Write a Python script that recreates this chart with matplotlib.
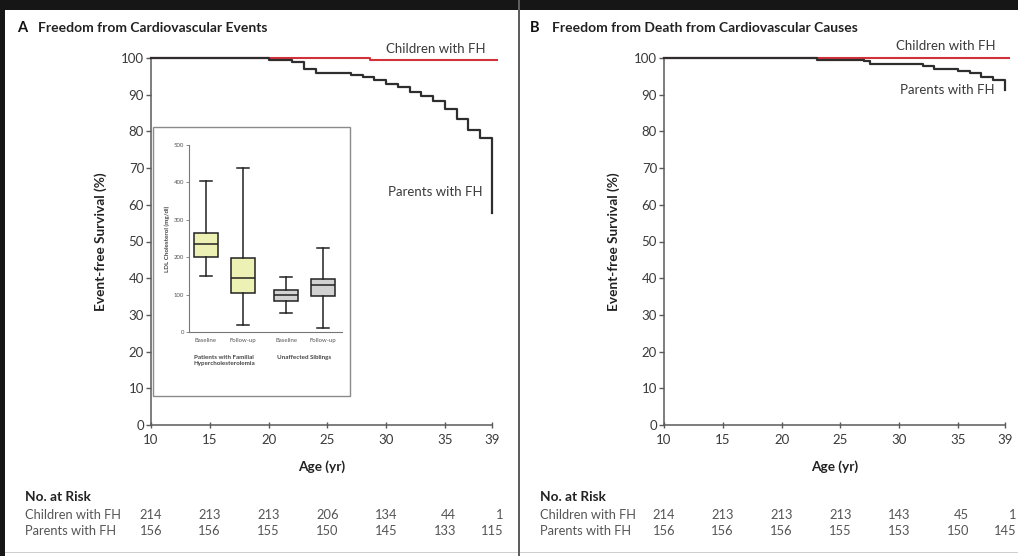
import matplotlib
matplotlib.use("Agg")
import matplotlib.pyplot as plt
from matplotlib.patches import Rectangle

plt.rcParams['font.family'] = ['Lato', 'DejaVu Sans']

# ---- Kaplan-Meier step data (age in years, event-free survival in %) ----
a_parents_age = [10, 20, 22, 23, 24, 27, 28, 29, 30, 31, 32, 33, 34, 35, 36, 37, 38, 39, 39]
a_parents_surv = [100, 99.5, 99.0, 96.9, 96.0, 95.5, 94.8, 94.1, 93.0, 92.0, 90.7, 89.7, 88.3,
                  86.0, 83.3, 80.5, 78.2, 75.4, 57.8]
a_children_age = [10, 28.6, 39.4]
a_children_surv = [100, 99.5, 99.5]

b_parents_age = [10, 23, 27, 27.5, 32, 33, 35, 36, 37, 38, 39, 39]
b_parents_surv = [100, 99.5, 99.1, 98.3, 97.7, 97.0, 96.4, 95.8, 94.9, 94.0, 94.0, 91.2]
b_children_age = [10, 39.3]
b_children_surv = [100, 100]

# ---- Numbers at risk ----
risk_ages = [10, 15, 20, 25, 30, 35, 39]
a_risk_children = [214, 213, 213, 206, 134, 44, 1]
a_risk_parents = [156, 156, 155, 150, 145, 133, 115]
b_risk_children = [214, 213, 213, 213, 143, 45, 1]
b_risk_parents = [156, 156, 156, 155, 153, 150, 145]

# ---- Inset: LDL cholesterol (mg/dl) box summaries ----
ldl_labels = ["Baseline", "Follow-up", "Baseline", "Follow-up"]
ldl_whislo = [150, 18, 50, 10]
ldl_q1 = [201, 104, 83, 95]
ldl_med = [235, 145, 98, 125]
ldl_q3 = [264, 198, 113, 143]
ldl_whishi = [404, 438, 148, 225]
ldl_groups = ["Patients with Familial\nHypercholesterolemia", "Unaffected Siblings"]

W, H = 1018, 556
fig = plt.figure(figsize=(W / 100, H / 100), dpi=100)
fig.patch.set_facecolor("white")

DARK = "#2e2e2e"
RED = "#d3313a"
TXT = "#3a3a3a"
SPINE = "#5a5a5a"


def px_rect(x0, y0, x1, y1):
    """Axes rectangle from pixel edges (y measured from the top)."""
    return [x0 / W, 1 - y1 / H, (x1 - x0) / W, (y1 - y0) / H]


def fig_xy(xpx, ypx):
    return (xpx / W, 1 - ypx / H)


def style_km(ax):
    ax.set_xlim(10, 39)
    ax.set_ylim(0, 100)
    for s in ("top", "right"):
        ax.spines[s].set_visible(False)
    for s in ("left", "bottom"):
        ax.spines[s].set_color(SPINE)
        ax.spines[s].set_linewidth(1.1)
    ax.set_xticks(risk_ages)
    ax.set_yticks(range(0, 101, 10))
    ax.tick_params(axis="y", direction="out", length=3.5, width=1, color=SPINE,
                   labelsize=9.5, labelcolor=TXT, pad=1.5)
    ax.tick_params(axis="x", direction="inout", length=5, width=1, color=SPINE,
                   labelsize=9.5, labelcolor=TXT, pad=4)
    ax.set_xlabel("Age (yr)", fontsize=9.8, fontweight="bold", color="#222", labelpad=10)
    ax.set_ylabel("Event-free Survival (%)", fontsize=9.8, fontweight="bold", color="#222",
                  labelpad=10)
    ax.patch.set_alpha(0)


def risk_table(ax, x_text, children, parents):
    fig.text(*fig_xy(x_text, 497), "No. at Risk", fontsize=9.8, fontweight="bold",
             color="#222", va="center")
    fig.text(*fig_xy(x_text, 515), "Children with FH", fontsize=9.3, color="#555",
             va="center")
    fig.text(*fig_xy(x_text, 531), "Parents with FH", fontsize=9.3, color="#555",
             va="center")
    for age, c, p in zip(risk_ages, children, parents):
        for val, ypx in ((c, 515), (p, 531)):
            ax.annotate(str(val), xy=(age, 1 - ypx / H), xycoords=("data", "figure fraction"),
                        xytext=(8, 0), textcoords="offset points", ha="right", va="center",
                        fontsize=9.3, color="#555", annotation_clip=False)


def curve_label(ax, text, xpx, ypx):
    ax.annotate(text, xy=fig_xy(xpx, ypx), xycoords="figure fraction",
                ha="right", va="center", fontsize=9.5, color=TXT)


# ---------------- Panel A ----------------
axA = fig.add_axes(px_rect(151, 58, 492, 425))
style_km(axA)
axA.step(a_children_age, a_children_surv, where="post", color=RED, lw=1.5, clip_on=False, zorder=3)
axA.step(a_parents_age, a_parents_surv, where="post", color=DARK, lw=1.6, clip_on=False, zorder=4)
curve_label(axA, "Children with FH", 485, 49)
curve_label(axA, "Parents with FH", 483, 192)
fig.text(*fig_xy(17, 28), "A", fontsize=10.5, fontweight="bold", color="#111", va="center")
fig.text(*fig_xy(38, 28), "Freedom from Cardiovascular Events", fontsize=10,
         fontweight="bold", color="#222", va="center")
risk_table(axA, 25, a_risk_children, a_risk_parents)

# inset frame
fig.patches.append(Rectangle((153 / W, 1 - 396 / H), (350 - 153) / W, (396 - 127) / H,
                             transform=fig.transFigure, facecolor="white", edgecolor="#8a8a8a",
                             lw=1.0, zorder=5))

# inset box plot
axI = fig.add_axes(px_rect(189, 145, 342, 332), zorder=6)
positions = [1, 2, 3.17, 4.16]
stats = [dict(med=m, q1=a, q3=b, whislo=lo, whishi=hi, label=l)
         for m, a, b, lo, hi, l in zip(ldl_med, ldl_q1, ldl_q3, ldl_whislo, ldl_whishi, ldl_labels)]
bp = axI.bxp(stats, positions=positions, widths=0.65, showfliers=False, patch_artist=True,
             boxprops=dict(edgecolor="#222", lw=1.1),
             medianprops=dict(color="#222", lw=1.1),
             whiskerprops=dict(color="#222", lw=1.1),
             capprops=dict(color="#222", lw=1.1))
for i, box in enumerate(bp["boxes"]):
    box.set_facecolor("#eef1b4" if i < 2 else "#d2d2d2")
axI.set_xlim(0.55, 4.68)
axI.set_ylim(0, 500)
axI.set_yticks(range(0, 501, 100))
for s in ("top", "right"):
    axI.spines[s].set_visible(False)
for s in ("left", "bottom"):
    axI.spines[s].set_color("#777")
    axI.spines[s].set_linewidth(0.8)
axI.tick_params(axis="both", length=2, width=0.6, color="#777", labelsize=4.3,
                labelcolor="#555", pad=1.5)
axI.set_ylabel("LDL Cholesterol (mg/dl)", fontsize=4.5, fontweight="bold", color="#444",
               labelpad=3)
axI.set_xticks(positions)
axI.set_xticklabels(ldl_labels)
axI.tick_params(axis="x", length=0, pad=4)
for xg, g in zip([(positions[0] + positions[1]) / 2, (positions[2] + positions[3]) / 2], ldl_groups):
    axI.annotate(g, xy=(xg, 1 - 355 / H), xycoords=("data", "figure fraction"), ha="center",
                 va="top", fontsize=4.5, fontweight="bold", color="#444", linespacing=1.3)
axI.patch.set_alpha(0)

# ---------------- Panel B ----------------
axB = fig.add_axes(px_rect(664, 58, 1005, 425))
style_km(axB)
axB.step(b_children_age, b_children_surv, where="post", color=RED, lw=1.5, clip_on=False, zorder=3)
axB.step(b_parents_age, b_parents_surv, where="post", color=DARK, lw=1.6, clip_on=False, zorder=4)
curve_label(axB, "Children with FH", 995, 46)
curve_label(axB, "Parents with FH", 995, 90)
fig.text(*fig_xy(530, 28), "B", fontsize=10.5, fontweight="bold", color="#111", va="center")
fig.text(*fig_xy(552, 28), "Freedom from Death from Cardiovascular Causes", fontsize=10,
         fontweight="bold", color="#222", va="center")
risk_table(axB, 540, b_risk_children, b_risk_parents)

# ---------------- Frame ----------------
fig.patches.append(Rectangle((0, 1 - 10 / H), 1, 10 / H, transform=fig.transFigure,
                             facecolor="#161616", edgecolor="none", zorder=10))
fig.patches.append(Rectangle((0, 0), 5 / W, 1, transform=fig.transFigure,
                             facecolor="#161616", edgecolor="none", zorder=10))
fig.patches.append(Rectangle((517.5 / W, 0), 2.5 / W, 1, transform=fig.transFigure,
                             facecolor="#5e5e5e", edgecolor="none", zorder=10))
fig.patches.append(Rectangle((5 / W, 1 - 553 / H), 1, 1.2 / H, transform=fig.transFigure,
                             facecolor="#cfcfcf", edgecolor="none", zorder=9))

fig.savefig("out.png", dpi=100)
